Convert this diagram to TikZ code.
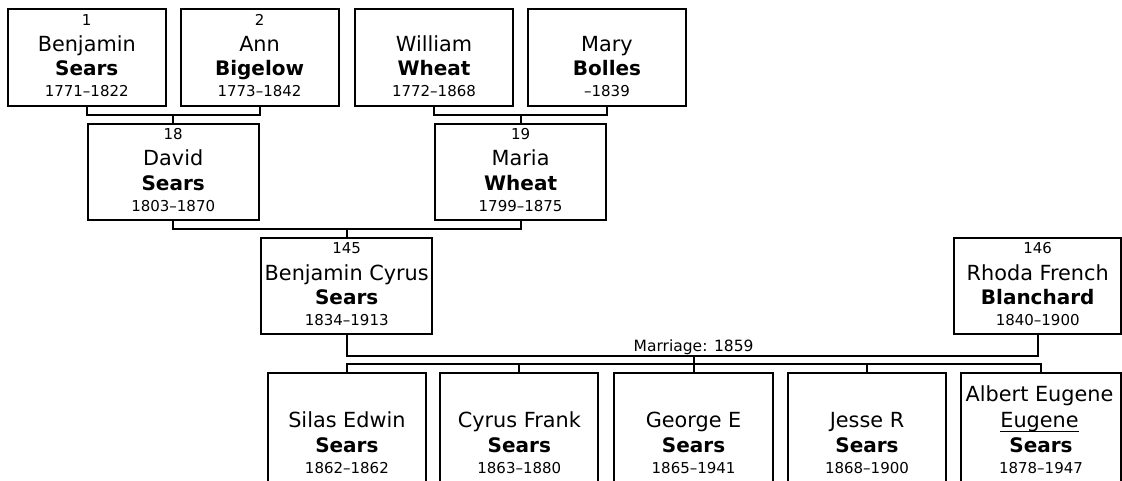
\documentclass[tikz,border=0pt]{standalone}
\usepackage{fontspec}
\setmainfont{DejaVu Sans}
\newcommand\pers[9]{%
  \node[pbox, minimum width=#4pt-2pt, minimum height=#5pt-2pt] (#1) at (#2,{#3+#5/2}) {};
  \node[numt] (#1-n) at (#2,{#3+17.3}) {#6};
  \node[namet] (#1-f) at (#2,{#3+43.3}) {#7};
  \node[surt] (#1-s) at (#2,{#3+67.5}) {#8};
  \node[numt] (#1-d) at (#2,{#3+88.4}) {#9};
}
\newcommand\kid[6]{%
  \node[pbox, minimum width=#3pt-2pt, minimum height=140pt, anchor=north] (#1) at (#2,372.7) {};
  \node[namet] (#1-f) at (#2,427) {#4};
  \node[surt] (#1-s) at (#2,452.3) {#5};
  \node[numt] (#1-d) at (#2,473.3) {#6};
}
\begin{document}
\begin{tikzpicture}[x=1pt,y=-1pt,
  pbox/.style={draw, line width=2pt, rectangle, inner sep=0pt, outer sep=0pt},
  conn/.style={line width=2pt},
  numt/.style={anchor=base, inner sep=0pt, font=\fontsize{15}{18}\selectfont},
  namet/.style={anchor=base, inner sep=0pt, font=\fontsize{20.8}{25}\selectfont},
  surt/.style={anchor=base, inner sep=0pt, font=\fontsize{20}{24}\selectfont\bfseries},
  marr/.style={anchor=base, inner sep=0pt, font=\fontsize{15.5}{18}\selectfont}]
\useasboundingbox (0,0) rectangle (1122,481);
\fill[white] (0,0) rectangle (1122,481);
\clip (0,0) rectangle (1122,481);

\pers{b1}{86.75}{8.3}{160.5}{98.4}{1}{Benjamin}{Sears}{1771–1822}
\pers{b2}{259.55}{8.3}{160.1}{98.4}{2}{Ann}{Bigelow}{1773–1842}
\pers{b3}{434}{8.3}{160.9}{98.4}{}{William}{Wheat}{1772–1868}
\pers{b4}{607}{8.3}{160.4}{98.4}{}{Mary}{Bolles}{–1839}
\pers{b18}{173.2}{122.7}{172.8}{98.6}{18}{David}{Sears}{1803–1870}
\pers{b19}{520.6}{122.7}{173.3}{98.6}{19}{Maria}{Wheat}{1799–1875}
\pers{b145}{346.7}{236.7}{173.3}{98.3}{145}{Benjamin Cyrus}{Sears}{1834–1913}
\pers{b146}{1037.7}{236.7}{168.7}{98.3}{146}{Rhoda French}{Blanchard}{1840–1900}

\kid{silas}{346.9}{159.8}{Silas Edwin}{Sears}{1862–1862}
\kid{cyrus}{519.3}{160}{Cyrus Frank}{Sears}{1863–1880}
\kid{george}{693.6}{160.7}{George E}{Sears}{1865–1941}
\kid{jesse}{867}{160.6}{Jesse R}{Sears}{1868–1900}
\kid{albert}{1041}{162}{}{Sears}{1878–1947}
\node[namet] (albert-f1) at (1039.5,401) {Albert Eugene};
\node[namet] (albert-f2) at (1039.5,427) {Eugene};
\draw[line width=1.2pt] ([yshift=-4.3pt]albert-f2.base west) -- ([yshift=-4.3pt]albert-f2.base east);

\coordinate (j12) at (173.2,115);
\draw[conn] (b1.south) -- (b1.south |- j12) -- (b2.south |- j12) -- (b2.south);
\draw[conn] (j12) -- (b18.north);
\coordinate (j34) at (520.6,115);
\draw[conn] (b3.south) -- (b3.south |- j34) -- (b4.south |- j34) -- (b4.south);
\draw[conn] (j34) -- (b19.north);
\coordinate (j1819) at (346.7,229);
\draw[conn] (b18.south) -- (b18.south |- j1819) -- (b19.south |- j1819) -- (b19.south);
\draw[conn] (j1819) -- (b145.north);
\coordinate (jm) at (693.6,355.7);
\draw[conn] (b145.south) -- (b145.south |- jm) -- (b146.south |- jm) -- (b146.south);
\node[marr] (mlabel) at (693.6,351.7) {Marriage: 1859};
\coordinate (jc) at (693.6,364);
\draw[conn] (jm) -- (jc);
\draw[conn] (silas.north) -- (silas.north |- jc) -- (albert.north |- jc) -- (albert.north);
\draw[conn] (jc) -- (george.north);
\draw[conn] (cyrus.north |- jc) -- (cyrus.north);
\draw[conn] (jesse.north |- jc) -- (jesse.north);
\end{tikzpicture}
\end{document}
